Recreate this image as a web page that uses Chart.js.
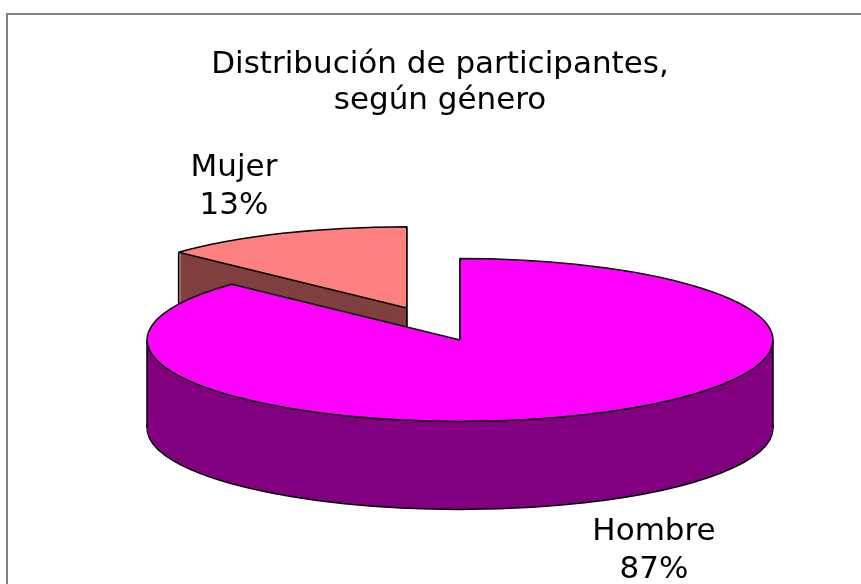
<!DOCTYPE html>
<html>
<head>
<meta charset="utf-8">
<script src="https://cdn.jsdelivr.net/npm/chart.js@4"></script>
<style>
  html, body { margin: 0; padding: 0; background: #fff; }
  #wrap { width: 861px; height: 584px; }
</style>
</head>
<body>
<div id="wrap"><canvas id="myChart" width="861" height="584"></canvas></div>
<script>
// datos
var labels = ['Hombre', 'Mujer'];
var values = [87, 13];
var topColors = ['#FF00FF', '#FF8080'];
var sideColors = ['#800080', '#804040'];

var titleLines = ['Distribución de participantes,', 'según género'];

// look of the 3d pie
var CX = 460, CY = 340;     // where the centre of the top face sits
var TILT = 0.26;            // vertical squash of the disc
var DEPTH = 88;             // thickness of the disc, px
var EXPLODE = [0, 134];     // how far each slice is pulled out
var LINE = 1.5;
var FONT = '31px "DejaVu Sans"';

var total = values.reduce(function (a, b) { return a + b; }, 0);

// label anchors (centre of text, baseline of first line)
var labelPos = [[654, 540], [234, 176]];

function strokeFlat(ctx) {
  // stroke in screen space so the squash doesn't thin the outline
  ctx.save();
  ctx.setTransform(1, 0, 0, 1, 0, 0);
  CanvasRenderingContext2D.prototype.stroke.call(ctx);
  ctx.restore();
}

var pie3d = {
  id: 'pie3d',
  beforeDraw: function (chart) {
    var ctx = chart.ctx;
    ctx.save();
    ctx.strokeStyle = '#808080';
    ctx.lineWidth = 2;
    ctx.strokeRect(7, 14, 1000, 1000);
    ctx.restore();
  },
  beforeDatasetsDraw: function (chart) {
    var ctx = chart.ctx;
    var arcs = chart.getDatasetMeta(0).data;

    function place(arc, i, dy) {
      var mid = (arc.startAngle + arc.endAngle) / 2;
      ctx.translate(CX, CY + dy);
      ctx.scale(1, TILT);
      ctx.translate(Math.cos(mid) * EXPLODE[i], Math.sin(mid) * EXPLODE[i]);
      ctx.translate(-arc.x, -arc.y);
    }

    function layer(dy, colors, bw) {
      arcs.forEach(function (arc, i) {
        var orig = arc.options;
        arc.options = Object.assign({}, orig, {
          backgroundColor: colors[i], borderColor: '#000', borderWidth: bw, offset: 0
        });
        ctx.save();
        place(arc, i, dy);
        ctx.stroke = function () { strokeFlat(ctx); };
        arc.draw(ctx);
        delete ctx.stroke;
        ctx.restore();
        arc.options = orig;
      });
    }

    // sides: bottom outline first, then fill upward
    layer(DEPTH, sideColors, LINE);
    for (var d = DEPTH - 1; d >= 1; d--) layer(d, sideColors, 0);

    // vertical edges of the side walls
    ctx.save();
    ctx.strokeStyle = '#000';
    ctx.lineWidth = LINE;
    arcs.forEach(function (arc, i) {
      var mid = (arc.startAngle + arc.endAngle) / 2;
      var ex = Math.cos(mid) * EXPLODE[i], ey = Math.sin(mid) * EXPLODE[i];
      var R = arc.outerRadius;
      var angs = [arc.startAngle, arc.endAngle];
      [0, Math.PI, 2 * Math.PI].forEach(function (a) {
        if (a > arc.startAngle && a < arc.endAngle) angs.push(a);
      });
      var pts = angs.map(function (a) { return [Math.cos(a) * R + ex, Math.sin(a) * R + ey]; });
      if (EXPLODE[i] > 0) pts.push([ex, ey]);
      pts.forEach(function (p) {
        var X = CX + p[0], Y = CY + TILT * p[1];
        ctx.beginPath();
        ctx.moveTo(X, Y);
        ctx.lineTo(X, Y + DEPTH);
        ctx.stroke();
      });
    });
    ctx.restore();

    // top faces
    layer(0, topColors, LINE);
    return false;
  },
  afterDraw: function (chart) {
    var ctx = chart.ctx;
    ctx.save();
    ctx.font = FONT;
    ctx.fillStyle = '#000';
    ctx.textAlign = 'center';
    ctx.textBaseline = 'alphabetic';
    labels.forEach(function (lab, i) {
      var pct = Math.round(values[i] / total * 100) + '%';
      ctx.fillText(lab, labelPos[i][0], labelPos[i][1]);
      ctx.fillText(pct, labelPos[i][0], labelPos[i][1] + 38);
    });
    ctx.restore();
  }
};

var ctx = document.getElementById('myChart');
var myChart = new Chart(ctx, {
  type: 'pie',
  data: {
    labels: labels,
    datasets: [{
      data: values,
      backgroundColor: topColors,
      borderColor: '#000',
      borderWidth: 1
    }]
  },
  options: {
    responsive: false,
    animation: false,
    radius: 313,
    layout: { padding: { left: 19, right: 0, top: 0, bottom: 0 } },
    plugins: {
      legend: { display: false },
      tooltip: { enabled: false },
      title: {
        display: true,
        text: titleLines,
        color: '#000',
        font: { family: 'DejaVu Sans', size: 31, weight: 'normal', lineHeight: 1.16 },
        padding: { top: 47, bottom: 10 }
      }
    }
  },
  plugins: [pie3d]
});
</script>
</body>
</html>
